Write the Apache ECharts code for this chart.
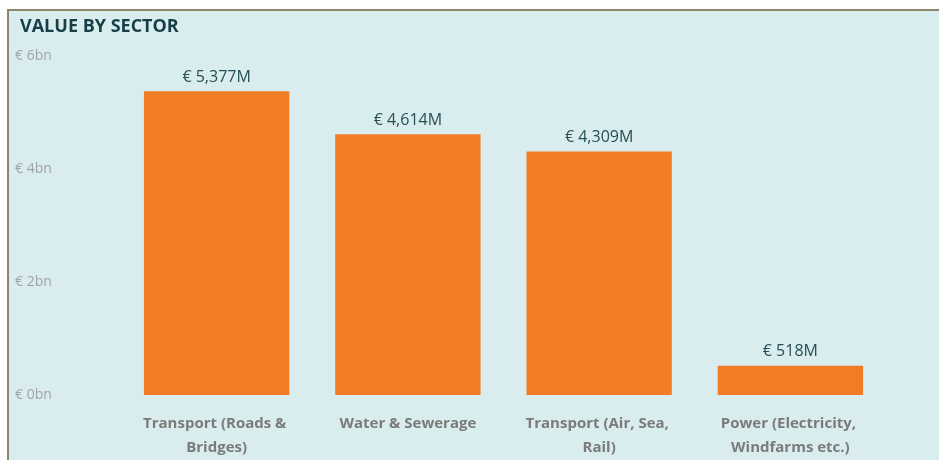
<!DOCTYPE html>
<html>
<head>
<meta charset="utf-8">
<script src="https://cdn.jsdelivr.net/npm/echarts@6/dist/echarts.min.js"></script>
<style>
  html, body { margin: 0; padding: 0; background: #fff; }
  #main { width: 939px; height: 460px; }
</style>
</head>
<body>
<div id="main"></div>
<script>
// values in € millions
var sectors = ["Transport (Roads & Bridges)", "Water & Sewerage", "Transport (Air, Sea, Rail)", "Power (Electricity, Windfarms etc.)"];
var values = [5377, 4614, 4309, 518];
var yTicks = [0, 2000, 4000, 6000];

var myChart = echarts.init(document.getElementById("main"));

var option = {
  backgroundColor: "#ffffff",
  textStyle: { fontFamily: "Open Sans" },
  graphic: [
    { type: "rect", z: -10, shape: { x: 7, y: 9, width: 932, height: 451 }, style: { fill: "#d9ecee" } },
    { type: "line", z: -9, shape: { x1: 7, y1: 10, x2: 939, y2: 10 }, style: { stroke: "#8d866a", lineWidth: 2 } },
    { type: "line", z: -9, shape: { x1: 8, y1: 9, x2: 8, y2: 460 }, style: { stroke: "#8d866a", lineWidth: 2 } }
  ],
  title: {
    text: "VALUE BY SECTOR",
    left: 15,
    top: 13,
    textStyle: { fontFamily: "Open Sans", fontWeight: "bold", fontSize: 18, color: "#173f47" }
  },
  grid: { left: 121, right: 53, top: 56, bottom: 61 },
  xAxis: {
    type: "category",
    data: sectors,
    axisLine: { show: false },
    axisTick: { show: false },
    axisLabel: {
      interval: 0,
      margin: 17,
      width: 160,
      overflow: "break",
      lineHeight: 24,
      fontSize: 15,
      fontWeight: "bold",
      color: "#7b7b7b"
    }
  },
  yAxis: {
    type: "value",
    min: yTicks[0],
    max: yTicks[yTicks.length - 1],
    interval: 2000,
    splitLine: { show: false },
    axisLabel: {
      align: "left",
      margin: 106,
      fontSize: 14,
      color: "#a0a4a6",
      formatter: function (v) { return "€ " + v / 1000 + "bn"; }
    }
  },
  series: [{
    type: "bar",
    data: values,
    barCategoryGap: "24%",
    itemStyle: { color: "#f17c26" },
    label: {
      show: true,
      position: "top",
      distance: 6,
      fontSize: 16,
      color: "#264f58",
      formatter: function (p) { return "€ " + p.value.toLocaleString("en-US") + "M"; }
    }
  }]
};

myChart.setOption(option, true);
</script>
</body>
</html>
